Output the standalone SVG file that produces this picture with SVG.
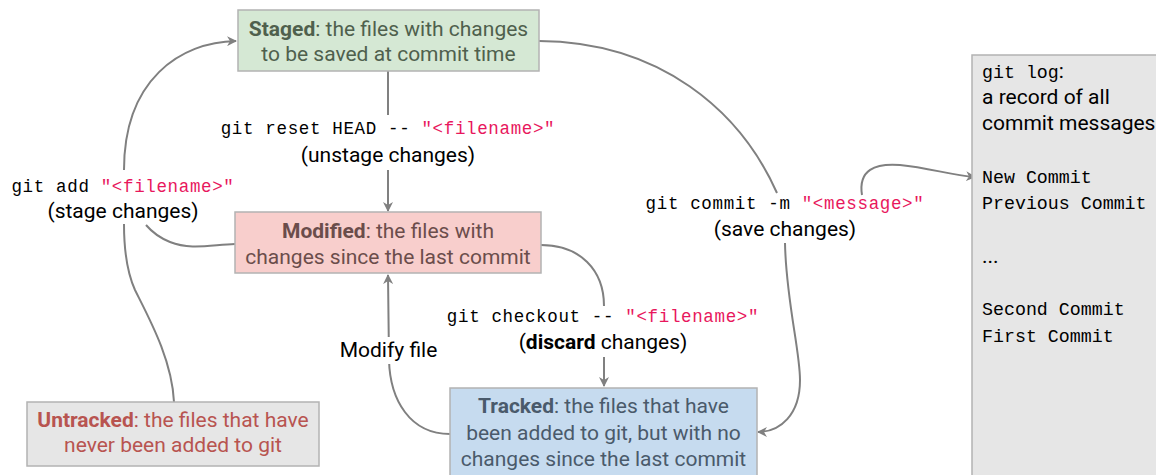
<svg xmlns="http://www.w3.org/2000/svg" width="1156" height="475" viewBox="0 0 1156 475">
<defs>
<marker id="ah" viewBox="0 0 10 10" refX="9" refY="5" markerWidth="10" markerHeight="10" markerUnits="userSpaceOnUse" orient="auto">
<path d="M0,0 L10,5 L0,10 L3,5 Z" fill="#808080"/>
</marker>
</defs>
<style>
.box{stroke:#b3b3b3;stroke-width:1.5}
.t{font-family:Roboto,"Liberation Sans",sans-serif;font-size:21px;text-anchor:middle}
.tl{font-family:Roboto,"Liberation Sans",sans-serif;font-size:21px}
.m{font-family:"Liberation Mono","DejaVu Sans Mono",monospace;font-size:17.5px;letter-spacing:0.65px;text-anchor:middle;fill:#000}
.ml{font-family:"Liberation Mono","DejaVu Sans Mono",monospace;font-size:18.3px;fill:#000}
.r{fill:#e8175d}
.b{font-weight:bold}
.c{fill:none;stroke:#808080;stroke-width:2}
</style>
<g id="connectors">
<path class="c" d="M174,402 C172,360 150,320 135,290 C126,270 124,245 124,224"/>
<path class="c" d="M124,170 C124,80 180,42 236,41" marker-end="url(#ah)"/>
<path class="c" d="M235,244 C210,245 190,250 170,242 C160,238 152,232 146,225"/>
<path class="c" d="M388,71 L388,115"/>
<path class="c" d="M388,170 L388,211" marker-end="url(#ah)"/>
<path class="c" d="M539,41 C660,42 740,110 777,193"/>
<path class="c" d="M785,243 C786,300 800,350 800,380 C800,415 780,432 758,432" marker-end="url(#ah)"/>
<path class="c" d="M862,195 C858,170 875,163 900,165 C930,168 950,175 975,177" marker-end="url(#ah)"/>
<path class="c" d="M541,245 C580,245 604,270 604,306"/>
<path class="c" d="M604,357 L604,386" marker-end="url(#ah)"/>
<path class="c" d="M450,434 C410,434 390,400 389,360 L388,275" marker-end="url(#ah)"/>
</g>
<g id="staged">
<rect class="box" x="238" y="10" width="301" height="61" fill="#d5e8d4"/>
<text class="t" x="388.5" y="36" fill="#4f604d"><tspan class="b">Staged</tspan>: the files with changes</text>
<text class="t" x="388.5" y="61" fill="#4f604d">to be saved at commit time</text>
</g>
<g id="modified">
<rect class="box" x="235" y="212" width="306" height="61" fill="#f8cecc"/>
<text class="t" x="388" y="238" fill="#6b4d4b"><tspan class="b">Modified</tspan>: the files with</text>
<text class="t" x="388" y="264" fill="#6b4d4b">changes since the last commit</text>
</g>
<g id="tracked">
<rect class="box" x="450" y="388" width="307" height="90" fill="#c6dbef"/>
<text class="t" x="603.5" y="413" fill="#4a5a6b"><tspan class="b">Tracked</tspan>: the files that have</text>
<text class="t" x="603.5" y="440" fill="#4a5a6b">been added to git, but with no</text>
<text class="t" x="603.5" y="466" fill="#4a5a6b">changes since the last commit</text>
</g>
<g id="untracked">
<rect class="box" x="27" y="402" width="292" height="64" fill="#e6e6e6"/>
<text class="t" x="173" y="427" fill="#b85450"><tspan class="b">Untracked</tspan>: the files that have</text>
<text class="t" x="173" y="452" fill="#b85450">never been added to git</text>
</g>
<g id="gitlog">
<rect class="box" x="972" y="55" width="190" height="425" fill="#e6e6e6"/>
<text class="ml" x="982" y="78">git log<tspan font-family="Roboto,'Liberation Sans',sans-serif" font-size="21px">:</tspan></text>
<text class="tl" x="982" y="104" fill="#000">a record of all</text>
<text class="tl" x="982" y="130" fill="#000">commit messages</text>
<text class="ml" x="982" y="183">New Commit</text>
<text class="ml" x="982" y="209">Previous Commit</text>
<text class="tl" x="982" y="263" fill="#000">...</text>
<text class="ml" x="982" y="315">Second Commit</text>
<text class="ml" x="982" y="342">First Commit</text>
</g>
<g id="label-reset">
<text class="m" x="388" y="134">git reset HEAD -- <tspan class="r">"&lt;filename&gt;"</tspan></text>
<text class="t" x="388" y="162" fill="#000">(unstage changes)</text>
</g>
<g id="label-add">
<text class="m" x="123" y="192">git add <tspan class="r">"&lt;filename&gt;"</tspan></text>
<text class="t" x="123" y="218" fill="#000">(stage changes)</text>
</g>
<g id="label-commit">
<text class="m" x="785" y="209">git commit -m <tspan class="r">"&lt;message&gt;"</tspan></text>
<text class="t" x="785" y="236" fill="#000">(save changes)</text>
</g>
<g id="label-checkout">
<text class="m" x="603" y="322">git checkout -- <tspan class="r">"&lt;filename&gt;"</tspan></text>
<text class="t" x="603" y="349" fill="#000">(<tspan class="b">discard</tspan> changes)</text>
</g>
<g id="label-modify">
<rect x="336" y="337" width="105" height="27" fill="#fff"/>
<text class="t" x="388.5" y="357" fill="#000">Modify file</text>
</g>
</svg>
